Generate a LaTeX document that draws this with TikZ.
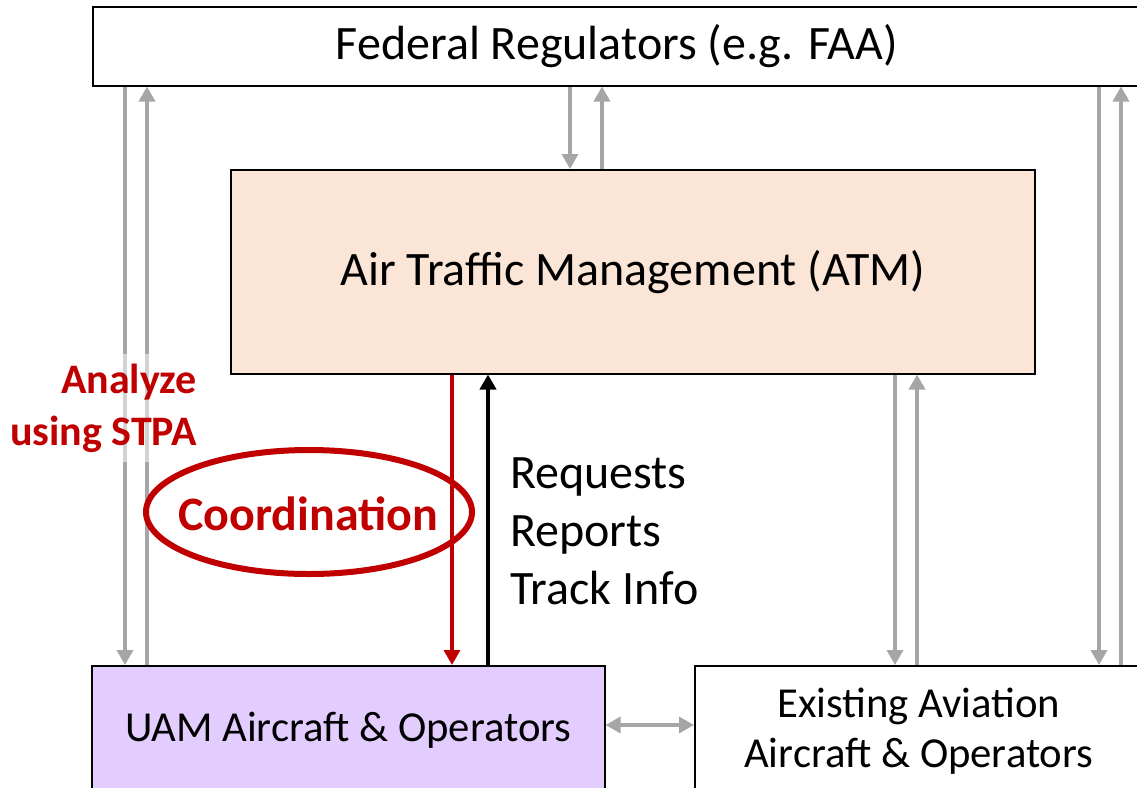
\documentclass[tikz,border=0pt]{standalone}
\usepackage{fontspec}
\setmainfont{Carlito}
\usepackage{xcolor}
\usetikzlibrary{shapes, arrows.meta}

\definecolor{atmfill}{HTML}{FBE5D6}
\definecolor{uamfill}{HTML}{E3CDFF}
\definecolor{stpared}{HTML}{C00000}
\definecolor{linkgray}{HTML}{A6A6A6}

\begin{document}
\begin{tikzpicture}[x=1pt,y=-1pt,>={Triangle[width=16pt,length=15pt]},
      box/.style={draw,line width=1.5pt,inner sep=0pt,align=center,
        font=\fontsize{48}{58}\selectfont},
      small box/.style={box,font=\fontsize{42.7}{50}\selectfont},
      link/.style={draw=linkgray,line width=3.4pt},
      red text/.style={text=stpared,font=\bfseries\fontsize{42}{52}\selectfont}]

    \useasboundingbox (0,0) rectangle (1137,787);
    \clip (0,0) rectangle (1137,787);

    \node[box,anchor=north west,minimum width=1048,minimum height=79] (fed) at (92,6) {Federal Regulators (e.g. FAA)};
    \node[box,fill=atmfill,anchor=north west,minimum width=804,minimum height=204] (atm) at (230,169) {Air Traffic Management (ATM)};
    \node[small box,fill=uamfill,anchor=north west,minimum width=513,minimum height=128] (uam) at (91,665) {UAM Aircraft \& Operators};
    \node[small box,anchor=north west,minimum width=448,minimum height=130] (exist) at (694,665) {Existing Aviation\\Aircraft \& Operators};

    % x positions of the vertical links
    \coordinate (a1) at (125,0);
    \coordinate (a2) at (147,0);
    \coordinate (b1) at (570,0);
    \coordinate (b2) at (602,0);
    \coordinate (c1) at (895,0);
    \coordinate (c2) at (917,0);
    \coordinate (d1) at (1099,0);
    \coordinate (d2) at (1121,0);
    \coordinate (ctl) at (452,0);
    \coordinate (fbk) at (488,0);
    \coordinate (hz) at (0,725);

    \draw[link,->] (fed.south -| a1) -- (uam.north -| a1);
    \draw[link,->] (uam.north -| a2) -- (fed.south -| a2);
    \draw[link,->] (fed.south -| b1) -- (atm.north -| b1);
    \draw[link,->] (atm.north -| b2) -- (fed.south -| b2);
    \draw[link,->] (atm.south -| c1) -- (exist.north -| c1);
    \draw[link,->] (exist.north -| c2) -- (atm.south -| c2);
    \draw[link,->] (fed.south -| d1) -- (exist.north -| d1);
    \draw[link,->] (exist.north -| d2) -- (fed.south -| d2);
    \draw[link,<->] (uam.east |- hz) -- (exist.west |- hz);

    % control action and feedback
    \draw[stpared,line width=3.5pt,->] (atm.south -| ctl) -- (uam.north -| ctl);
    \draw[line width=4pt,->] (uam.north -| fbk) -- (atm.south -| fbk);

    \node[anchor=west,inner sep=0pt,align=left,font=\fontsize{48}{58}\selectfont] (fb) at (510,531) {Requests\\Reports\\Track Info};

    \node[red text,anchor=east,align=right,fill=white,fill opacity=0.5,text opacity=1,
          inner xsep=4pt,inner ysep=10pt] (stpa) at (201,408) {Analyze\\using STPA};

    \node[inner sep=0pt,text=stpared,font=\bfseries\fontsize{48}{56}\selectfont] (coord) at (308,514) {Coordination};
    \draw[stpared,line width=6pt] (309,512) ellipse (163 and 62);

\end{tikzpicture}
\end{document}
